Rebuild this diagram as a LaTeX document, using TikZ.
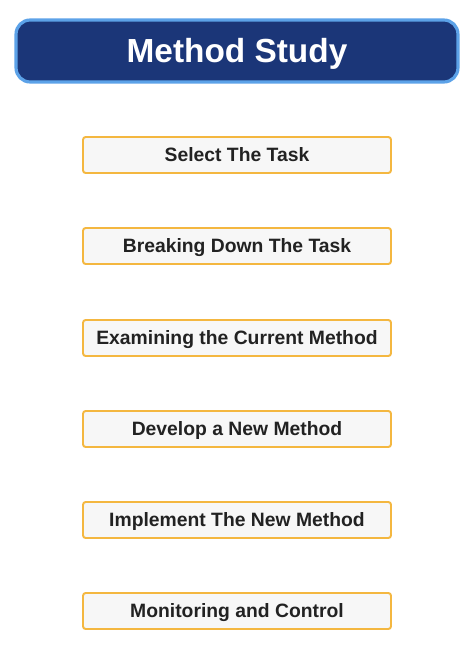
\documentclass[tikz,border=0pt]{standalone}
\usepackage{fontspec}
\setmainfont{Liberation Sans}
\definecolor{navy}{RGB}{27,54,120}
\definecolor{skyline}{RGB}{92,162,232}
\definecolor{amber}{RGB}{244,183,64}
\definecolor{paper}{RGB}{247,247,247}
\definecolor{ink}{RGB}{34,34,34}
\tikzstyle{titlebox}=[rectangle,rounded corners=8pt,minimum width=8.84cm,minimum height=1.24cm,text height=13.6pt,text depth=0pt,draw=skyline,line width=1.8pt,fill=navy,text=white,font=\fontsize{19}{22}\selectfont\bfseries]
\tikzstyle{stepbox}=[rectangle,rounded corners=1.5pt,minimum width=6.16cm,minimum height=0.72cm,text height=7.9pt,text depth=0pt,draw=amber,line width=1.1pt,fill=paper,text=ink,font=\fontsize{11}{13}\selectfont\bfseries]

\begin{document}
\begin{tikzpicture}[x=0.02cm,y=-0.02cm]
\useasboundingbox (0,0) rectangle (474,649);

\node[titlebox] (title) at (237,51) {Method Study};

\foreach \i/\y/\txt in {1/155/Select The Task,
	2/246/Breaking Down The Task,
	3/338/Examining the Current Method,
	4/429/Develop a New Method,
	5/520/Implement The New Method,
	6/611/Monitoring and Control}{
	\node[stepbox] (step\i) at (237,\y) {\txt};
}

\end{tikzpicture}
\end{document}
